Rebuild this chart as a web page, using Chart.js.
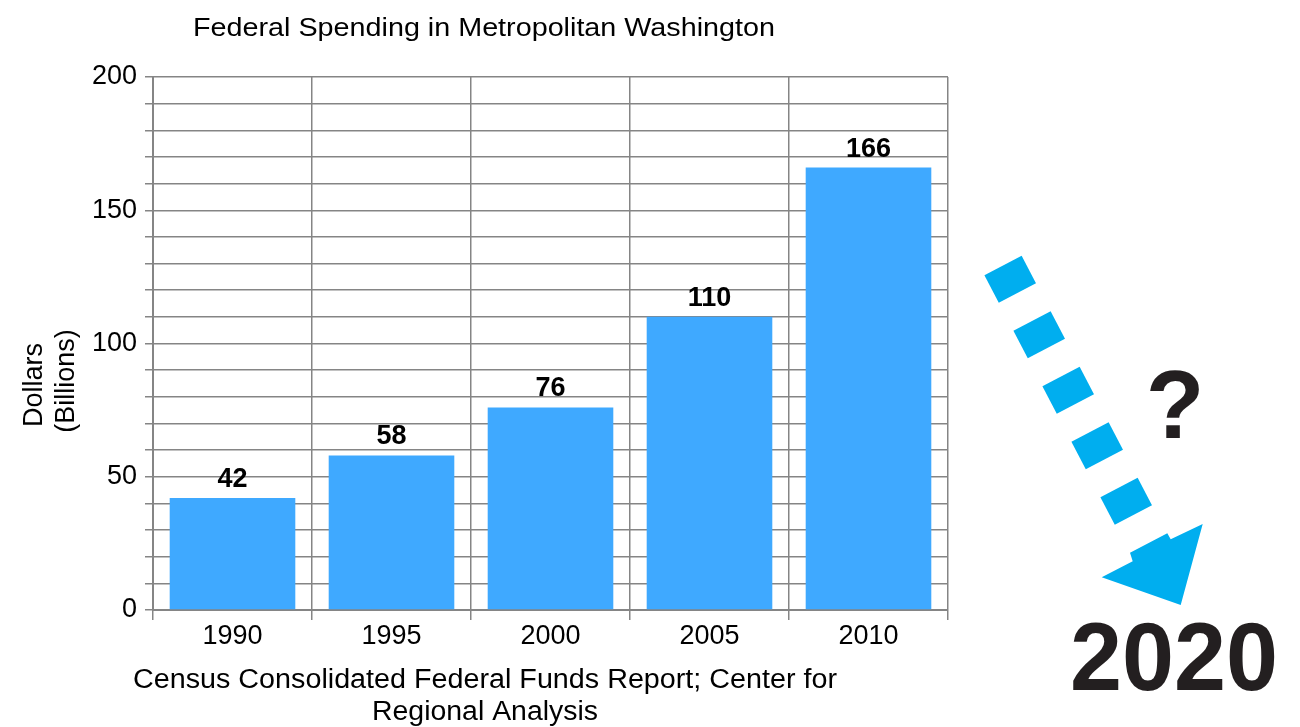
<!DOCTYPE html>
<html lang="en">
<head>
    <meta charset="UTF-8">
    <script src="https://cdn.jsdelivr.net/npm/chart.js"></script>
    <title>Federal Spending in Metropolitan Washington</title>
    <style>
        body { margin: 0; background: #fff; }
    </style>
</head>
<body>
    <canvas id="myChart" width="1300" height="727"></canvas>
</body>

<script>
    // values
    const years = ['1990', '1995', '2000', '2005', '2010'];
    const spending = [42, 58, 76, 110, 166];
    const yLabelTicks = [0, 50, 100, 150, 200];

    const chartTitle = 'Federal Spending in Metropolitan Washington';
    const xTitle = ['Census Consolidated Federal Funds Report; Center for', 'Regional Analysis'];
    const yTitle = ['Dollars', '(Billions)'];

    const FONT = "'Liberation Sans', Arial, sans-serif";
    const gridGray = '#858585';

    // draw a line of text squeezed/stretched to a given width
    function fitText(ctx, text, x, y, width) {
        const w = ctx.measureText(text).width;
        ctx.save();
        ctx.translate(x, y);
        ctx.scale(width / w, 1);
        ctx.fillText(text, 0, 0);
        ctx.restore();
    }

    // titles, bar value labels and the "2020 ?" arrow on the right
    const extras = {
        id: 'extras',
        afterDatasetsDraw(chart) {
            const ctx = chart.ctx;
            ctx.save();
            ctx.fillStyle = '#000';

            // values above bars
            ctx.font = 'bold 27px ' + FONT;
            ctx.textAlign = 'center';
            ctx.textBaseline = 'alphabetic';
            chart.getDatasetMeta(0).data.forEach((bar, i) => {
                ctx.fillText(spending[i], bar.x, bar.y - 11);
            });
            ctx.restore();
        },
        afterDraw(chart) {
            const ctx = chart.ctx;
            ctx.save();
            ctx.fillStyle = '#000';
            ctx.textAlign = 'center';
            ctx.textBaseline = 'alphabetic';

            ctx.font = '26px ' + FONT;
            fitText(ctx, chartTitle, 484, 36, 582);

            ctx.font = '27px ' + FONT;
            fitText(ctx, xTitle[0], 485, 688, 704);
            fitText(ctx, xTitle[1], 485, 720, 226);

            ctx.save();
            ctx.translate(0, 385);
            ctx.rotate(-Math.PI / 2);
            ctx.font = '27px ' + FONT;
            ctx.fillText(yTitle[0], 0, 42);
            ctx.fillText(yTitle[1], 4, 74);
            ctx.restore();

            // dashed arrow
            ctx.fillStyle = '#00AEEF';
            const ang = Math.atan2(55.5, 29);
            for (let k = 0; k < 5; k++) {
                ctx.save();
                ctx.translate(1010.2 + 29 * k, 279.3 + 55.5 * k);
                ctx.rotate(ang);
                ctx.fillRect(-15.5, -21, 31, 42);
                ctx.restore();
            }
            const head = [[1101.7, 577.3], [1132.7, 561.3], [1130, 552.7], [1167.3, 533.3],
                          [1170.7, 539.3], [1202.7, 524], [1180.7, 605]];
            ctx.beginPath();
            head.forEach((p, i) => i ? ctx.lineTo(p[0], p[1]) : ctx.moveTo(p[0], p[1]));
            ctx.closePath();
            ctx.fill();

            ctx.fillStyle = '#231F20';
            ctx.font = 'bold 96px ' + FONT;
            ctx.fillText('?', 1175, 438);
            ctx.font = 'bold 97px ' + FONT;
            fitText(ctx, '2020', 1174, 690, 208);

            ctx.restore();
        }
    };

    const ctx = document.getElementById('myChart');

    new Chart(ctx, {
        type: 'bar',
        data: {
            labels: years,
            datasets: [{
                label: 'Dollars (Billions)',
                data: spending,
                backgroundColor: '#3FA9FF',
                borderWidth: 0,
                barPercentage: 0.79,
                categoryPercentage: 1
            }]
        },
        options: {
            responsive: false,
            animation: false,
            layout: {
                padding: { top: 77, right: 352, bottom: 0, left: 0 }
            },
            plugins: {
                legend: { display: false },
                tooltip: { enabled: false }
            },
            scales: {
                x: {
                    afterFit: (s) => { s.height = 117; },
                    grid: {
                        offset: true,
                        color: gridGray,
                        lineWidth: 1.5,
                        tickLength: 10
                    },
                    border: { color: gridGray, width: 2 },
                    ticks: {
                        color: '#000',
                        padding: 0,
                        font: { family: FONT, size: 27 }
                    }
                },
                y: {
                    min: 0,
                    max: 200,
                    afterFit: (s) => { s.width = 153; },
                    grid: {
                        color: gridGray,
                        lineWidth: 1.5,
                        tickLength: 8
                    },
                    border: { color: gridGray, width: 2 },
                    ticks: {
                        stepSize: 10,
                        autoSkip: false,
                        color: '#000',
                        padding: 8,
                        font: { family: FONT, size: 27 },
                        callback: function(value) {
                            return yLabelTicks.includes(value) ? value : '';
                        }
                    }
                }
            }
        },
        plugins: [extras]
    });
</script>
</html>
